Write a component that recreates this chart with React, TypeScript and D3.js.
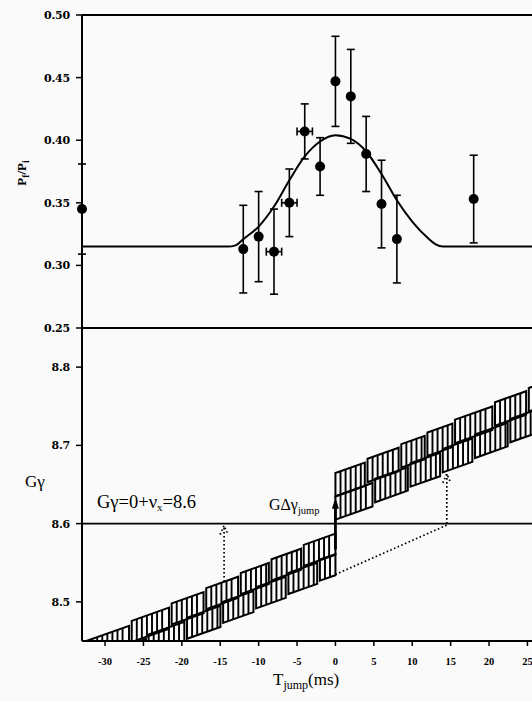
import React from "react";
import * as d3 from "d3";

// ---------- data ----------
const X_TICKS = [-30, -25, -20, -15, -10, -5, 0, 5, 10, 15, 20, 25];
const TOP_Y_TICKS = [0.25, 0.3, 0.35, 0.4, 0.45, 0.5];
const BOT_Y_TICKS = [8.5, 8.6, 8.7, 8.8];

const T_POINTS = [-33, -12, -10, -8, -6, -4, -2, 0, 2, 4, 6, 8, 18];
const P_VALUES = [0.345, 0.313, 0.323, 0.311, 0.35, 0.407, 0.379, 0.447, 0.435, 0.389, 0.349, 0.321, 0.353];
const P_ERR = [0.036, 0.035, 0.036, 0.034, 0.027, 0.022, 0.023, 0.036, 0.0375, 0.03, 0.035, 0.035, 0.035];
const T_ERR = [0, 0, 0, 1, 1, 1, 0, 0, 0, 0, 0, 0, 0];

const FIT_T = [-33, -14, -13, -12, -10, -8, -6, -4, -2, 0, 2, 4, 6, 8, 10, 12, 13, 14, 27];
const FIT_P = [0.315, 0.315, 0.316, 0.321, 0.331, 0.347, 0.368, 0.387, 0.399, 0.404, 0.401, 0.391, 0.373, 0.352, 0.335, 0.322, 0.317, 0.315, 0.315];

// Gγ bands: centre at t=0, slope per ms, half width
const SLOPE = 0.00435;
const PRE_BAND = { t0: -33, t1: 0, c0: 8.562, hw: 0.027 };
const POST_BAND = { t0: 0, t1: 27, c0: 8.633, hw: 0.03 };
const PRE_UPPER_BREAKS = [-33, -26.7, -21.5, -17, -12.5, -8.5, -4.3, 0];
const PRE_LOWER_BREAKS = [-33, -29.5, -24.5, -19.5, -14.8, -10.5, -6.3, -2.2, 0];
const POST_UPPER_BREAKS = [0, 4, 8.4, 11.8, 15.4, 20.6, 25, 27];
const POST_LOWER_BREAKS = [0, 5, 9.6, 13.8, 18, 22.6, 27];

const RESONANCE = 8.6;
const JUMP_T = 0;
const CROSS_PRE_T = -14.5;
const CROSS_POST_T = 14.5;

// ---------- layout ----------
const W = 532;
const H = 701;
const x = d3.scaleLinear().domain([-33, 27]).range([82, 542.8]);
const yTop = d3.scaleLinear().domain([0.25, 0.5]).range([328, 15]);
const yBot = d3.scaleLinear().domain([8.45, 8.85]).range([641, 328]);

const SERIF = "Liberation Serif, Times New Roman, serif";
const WIDE_SERIF = "DejaVu Serif, serif";
const HATCH = 0.66; // ms between hatch lines
const GAP = 0.35;
const BLOCK_SLOPE = SLOPE * 0.8;

type Band = { t0: number; t1: number; c0: number; hw: number };

function bandBlocks(band: Band, breaks: number[], upper: boolean) {
  const c = (t: number) => band.c0 + SLOPE * t;
  const outlines: string[] = [];
  const hatches: string[] = [];
  for (let i = 0; i < breaks.length - 1; i++) {
    const a = breaks[i] + (i > 0 ? GAP / 2 : 0);
    const b = breaks[i + 1] - (i < breaks.length - 2 ? GAP / 2 : 0);
    const m = (a + b) / 2;
    const topOff = upper ? band.hw : 0;
    const botOff = upper ? 0 : -band.hw;
    const top = (t: number) => c(m) + topOff + BLOCK_SLOPE * (t - m);
    const bot = (t: number) => c(m) + botOff + BLOCK_SLOPE * (t - m);
    const p = d3.path();
    p.moveTo(x(a), yBot(bot(a)));
    p.lineTo(x(a), yBot(top(a)));
    p.lineTo(x(b), yBot(top(b)));
    p.lineTo(x(b), yBot(bot(b)));
    p.closePath();
    outlines.push(p.toString());
    const hp = d3.path();
    for (let t = a + HATCH; t < b - HATCH * 0.4; t += HATCH) {
      hp.moveTo(x(t), yBot(bot(t)));
      hp.lineTo(x(t), yBot(top(t)));
    }
    hatches.push(hp.toString());
  }
  return { outlines, hatches };
}

function BandView({ band, upperBreaks, lowerBreaks }: { band: Band; upperBreaks: number[]; lowerBreaks: number[] }) {
  const u = bandBlocks(band, upperBreaks, true);
  const l = bandBlocks(band, lowerBreaks, false);
  return (
    <g>
      {[...u.outlines, ...l.outlines].map((d, i) => (
        <path key={"o" + i} d={d} fill="none" stroke="#000" strokeWidth={2} />
      ))}
      {[...u.hatches, ...l.hatches].map((d, i) => (
        <path key={"h" + i} d={d} fill="none" stroke="#000" strokeWidth={1.9} />
      ))}
    </g>
  );
}

export default function App() {
  const fitLine = d3
    .line<number>()
    .x((_, i) => x(FIT_T[i]))
    .y((v) => yTop(v))
    .curve(d3.curveMonotoneX)(FIT_P) as string;

  const preLowerEdge = (t: number) => PRE_BAND.c0 - PRE_BAND.hw + SLOPE * t;
  const preUpperEdge = (t: number) => PRE_BAND.c0 + PRE_BAND.hw + SLOPE * t;
  const postLowerEdge = (t: number) => POST_BAND.c0 - POST_BAND.hw + SLOPE * t;

  const dotted = { stroke: "#000", strokeWidth: 1.7, strokeDasharray: "1.6,2.4", fill: "none" };

  const arrowHeadDotted = (xt: number, yt: number) =>
    `M${xt - 4},${yt + 9} L${xt},${yt} L${xt + 4},${yt + 9}`;

  const capW = 4;

  return (
    <svg
      width={W}
      height={H}
      style={{ position: "absolute", left: 0, top: 0, background: "#fafafa" }}
      fontFamily={SERIF}
    >
      <defs>
        <clipPath id="botClip">
          <rect x={82} y={yBot(8.85)} width={W - 82} height={yBot(8.45) - yBot(8.85)} />
        </clipPath>
        <clipPath id="topClip">
          <rect x={76} y={0} width={W - 76} height={yTop(0.25)} />
        </clipPath>
      </defs>

      {/* frame lines */}
      <line x1={82} x2={W} y1={yTop(0.5)} y2={yTop(0.5)} stroke="#000" strokeWidth={2} />
      <line x1={82} x2={W} y1={yTop(0.25)} y2={yTop(0.25)} stroke="#000" strokeWidth={2} />
      <line x1={82} x2={W} y1={yBot(8.45)} y2={yBot(8.45)} stroke="#000" strokeWidth={2} />
      <line x1={82} x2={82} y1={yTop(0.5)} y2={yBot(8.45)} stroke="#000" strokeWidth={2} />

      {/* top y ticks */}
      {TOP_Y_TICKS.map((v) => (
        <g key={"ty" + v}>
          <line x1={76} x2={82} y1={yTop(v)} y2={yTop(v)} stroke="#000" strokeWidth={1.5} />
          <text x={70} y={yTop(v) + 4} textAnchor="end" fontSize={11} fontWeight="bold" fontFamily={WIDE_SERIF} letterSpacing={-0.2}>
            {v.toFixed(2)}
          </text>
        </g>
      ))}
      {/* bottom y ticks */}
      {BOT_Y_TICKS.map((v) => (
        <g key={"by" + v}>
          <line x1={76} x2={82} y1={yBot(v)} y2={yBot(v)} stroke="#000" strokeWidth={1.5} />
          <text x={70} y={yBot(v) + 4} textAnchor="end" fontSize={11} fontWeight="bold" fontFamily={WIDE_SERIF} letterSpacing={-0.2}>
            {v.toFixed(1)}
          </text>
        </g>
      ))}
      {/* x ticks */}
      {X_TICKS.map((v) => (
        <g key={"x" + v}>
          <line x1={x(v)} x2={x(v)} y1={yBot(8.45)} y2={yBot(8.45) + 5} stroke="#000" strokeWidth={1.5} />
          <text x={x(v)} y={665} textAnchor="middle" fontSize={10.5} fontWeight="bold">
            {v}
          </text>
        </g>
      ))}

      {/* axis titles */}
      <text transform="translate(26,173) rotate(-90)" textAnchor="middle" fontSize={13} fontWeight="bold">
        P<tspan dy={3} fontSize={9.5}>f</tspan>
        <tspan dy={-3}>/P</tspan>
        <tspan dy={3} fontSize={9.5}>i</tspan>
      </text>
      <text x={25} y={487} fontSize={17}>
        Gγ
      </text>
      <text x={273} y={685} fontSize={17}>
        T<tspan dy={4} fontSize={12}>jump</tspan>
        <tspan dy={-4}>(ms)</tspan>
      </text>

      {/* top panel: fit and data */}
      <g clipPath="url(#topClip)">
        <path d={fitLine} fill="none" stroke="#000" strokeWidth={2} />
        {T_POINTS.map((t, i) => {
          const cx = x(t);
          const cy = yTop(P_VALUES[i]);
          const y1 = yTop(P_VALUES[i] + P_ERR[i]);
          const y2 = yTop(P_VALUES[i] - P_ERR[i]);
          return (
            <g key={"p" + i}>
              <line x1={cx} x2={cx} y1={y1} y2={y2} stroke="#000" strokeWidth={1.6} />
              <line x1={cx - capW} x2={cx + capW} y1={y1} y2={y1} stroke="#000" strokeWidth={1.6} />
              <line x1={cx - capW} x2={cx + capW} y1={y2} y2={y2} stroke="#000" strokeWidth={1.6} />
              {T_ERR[i] > 0 && (
                <g>
                  <line x1={x(t - T_ERR[i])} x2={x(t + T_ERR[i])} y1={cy} y2={cy} stroke="#000" strokeWidth={1.6} />
                  <line x1={x(t - T_ERR[i])} x2={x(t - T_ERR[i])} y1={cy - 4} y2={cy + 4} stroke="#000" strokeWidth={1.6} />
                  <line x1={x(t + T_ERR[i])} x2={x(t + T_ERR[i])} y1={cy - 4} y2={cy + 4} stroke="#000" strokeWidth={1.6} />
                </g>
              )}
              <circle cx={cx} cy={cy} r={5} fill="#000" />
            </g>
          );
        })}
      </g>

      {/* bottom panel */}
      <line x1={82} x2={W} y1={yBot(RESONANCE)} y2={yBot(RESONANCE)} stroke="#000" strokeWidth={1.8} />
      <g clipPath="url(#botClip)">
        <BandView band={PRE_BAND} upperBreaks={PRE_UPPER_BREAKS} lowerBreaks={PRE_LOWER_BREAKS} />
        <BandView band={POST_BAND} upperBreaks={POST_UPPER_BREAKS} lowerBreaks={POST_LOWER_BREAKS} />

        {/* dotted: pre-band upper edge crossing */}
        <line x1={x(CROSS_PRE_T)} x2={x(CROSS_PRE_T)} y1={yBot(preUpperEdge(CROSS_PRE_T))} y2={yBot(RESONANCE) + 2} {...dotted} />
        <path d={arrowHeadDotted(x(CROSS_PRE_T), yBot(RESONANCE) + 2)} {...dotted} />

        {/* dotted: extension of pre-band lower edge */}
        <line x1={x(JUMP_T)} x2={x(CROSS_POST_T)} y1={yBot(preLowerEdge(JUMP_T))} y2={yBot(preLowerEdge(CROSS_POST_T))} {...dotted} />
        <line x1={x(CROSS_POST_T)} x2={x(CROSS_POST_T)} y1={yBot(RESONANCE)} y2={yBot(postLowerEdge(CROSS_POST_T)) + 2} {...dotted} />
        <path d={arrowHeadDotted(x(CROSS_POST_T), yBot(postLowerEdge(CROSS_POST_T)) + 2)} {...dotted} />

        {/* jump arrow */}
        <line x1={x(JUMP_T)} x2={x(JUMP_T)} y1={yBot(PRE_BAND.c0 + 0.005)} y2={yBot(POST_BAND.c0) + 6} stroke="#000" strokeWidth={2.8} />
        <path
          d={`M${x(JUMP_T)},${yBot(POST_BAND.c0)} L${x(JUMP_T) - 3.5},${yBot(POST_BAND.c0) + 11} L${x(JUMP_T) + 3.5},${yBot(POST_BAND.c0) + 11} Z`}
          fill="#000"
        />
      </g>

      {/* annotations */}
      <text x={97} y={508} fontSize={18.5}>
        Gγ=0+ν<tspan dy={3} fontSize={11}>x</tspan>
        <tspan dy={-3}>=8.6</tspan>
      </text>
      <text x={269} y={510} fontSize={16}>
        GΔγ<tspan dy={3.5} fontSize={10.5}>jump</tspan>
      </text>
    </svg>
  );
}
